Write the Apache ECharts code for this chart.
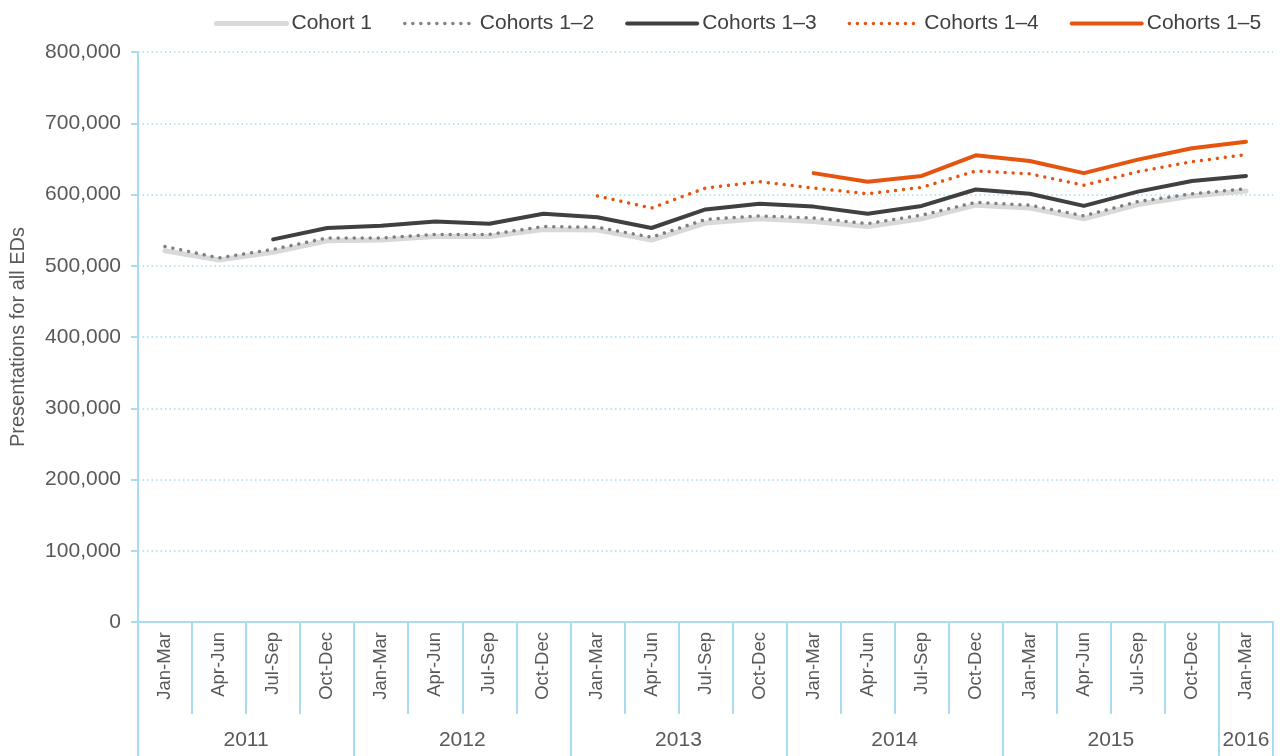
<!DOCTYPE html>
<html>
<head>
<meta charset="UTF-8">
<title>ED presentations by cohort</title>
<script src="https://cdn.jsdelivr.net/npm/echarts@6/dist/echarts.min.js"></script>
<style>
  html, body { margin: 0; padding: 0; background: #fff; }
  #main { width: 1284px; height: 756px; }
</style>
</head>
<body>
<div id="main"></div>
<script>
// quarters along the x axis, grouped by year below
var quarters = ['Jan-Mar', 'Apr-Jun', 'Jul-Sep', 'Oct-Dec',
                'Jan-Mar', 'Apr-Jun', 'Jul-Sep', 'Oct-Dec',
                'Jan-Mar', 'Apr-Jun', 'Jul-Sep', 'Oct-Dec',
                'Jan-Mar', 'Apr-Jun', 'Jul-Sep', 'Oct-Dec',
                'Jan-Mar', 'Apr-Jun', 'Jul-Sep', 'Oct-Dec',
                'Jan-Mar'];
var years = ['2011', '2012', '2013', '2014', '2015', '2016'];
var quartersPerYear = [4, 4, 4, 4, 4, 1];

// presentations
var cohort1 = [521000, 508000, 519000, 535000, 536000, 541000, 541000, 551000,
               550000, 536000, 560000, 566000, 562000, 555000, 566000, 585000,
               581000, 566000, 586000, 598000, 605000];
var cohorts12 = [527000, 511000, 523000, 539000, 539000, 544000, 544000, 555000,
                 554000, 540000, 565000, 570000, 567000, 559000, 571000, 589000,
                 585000, 570000, 590000, 601000, 608000];
var cohorts13 = [null, null, 537000, 553000, 556000, 562000, 559000, 573000,
                 568000, 553000, 579000, 587000, 583000, 573000, 584000, 607000,
                 601000, 584000, 604000, 619000, 626000];
var cohorts14 = [null, null, null, null, null, null, null, null,
                 598000, 581000, 609000, 618000, 609000, 601000, 610000, 633000,
                 629000, 613000, 632000, 646000, 656000];
var cohorts15 = [null, null, null, null, null, null, null, null,
                 null, null, null, null, 630000, 618000, 626000, 655000,
                 647000, 630000, 649000, 665000, 674000];

var yTicks = [0, 100000, 200000, 300000, 400000, 500000, 600000, 700000, 800000];

// year group boundaries and centres on a 0..21 scale
var yearEdges = [0], yearCentres = [];
quartersPerYear.forEach(function (n, i) {
    var start = yearEdges[yearEdges.length - 1];
    yearCentres.push(start + n / 2);
    yearEdges.push(start + n);
});

var blue = '#a9dcee';
var grey = '#595959';
var font = 'Liberation Sans, Arial, sans-serif';

var myChart = echarts.init(document.getElementById('main'));

function lineSeries(name, data, color, width, dotted, z) {
    return {
        name: name,
        type: 'line',
        data: data,
        symbol: 'none',
        connectNulls: false,
        z: z,
        lineStyle: {
            color: color,
            width: width,
            type: dotted ? [0.01, 8] : 'solid',
            cap: 'round',
            join: 'round'
        },
        itemStyle: { color: color }
    };
}

var option = {
    animation: false,
    textStyle: { fontFamily: font },
    legend: {
        top: 8,
        left: 209,
        itemWidth: 70,
        itemHeight: 12,
        itemGap: 31,
        itemStyle: { opacity: 0 },
        lineStyle: { width: 'inherit' },
        textStyle: { color: '#404040', fontSize: 21, fontFamily: font },
        data: ['Cohort 1', 'Cohorts 1–2', 'Cohorts 1–3', 'Cohorts 1–4', 'Cohorts 1–5']
    },
    grid: { left: 138, right: 11, top: 52, bottom: 134 },
    xAxis: [
        {
            type: 'category',
            data: quarters,
            boundaryGap: true,
            axisLine: { lineStyle: { color: blue, width: 2 } },
            axisTick: { show: true, interval: 0, length: 92, lineStyle: { color: blue, width: 2 } },
            axisLabel: { interval: 0, rotate: 90, margin: 10, fontSize: 18.5, color: grey, fontFamily: font },
            splitLine: { show: false }
        },
        {
            type: 'value',
            min: 0,
            max: quarters.length,
            position: 'bottom',
            axisLine: { show: false },
            splitLine: { show: false },
            axisTick: { show: true, customValues: yearEdges, length: 134, lineStyle: { color: blue, width: 2 } },
            axisLabel: {
                customValues: yearCentres,
                margin: 108,
                fontSize: 21,
                color: grey,
                fontFamily: font,
                formatter: function (v) {
                    var i = yearCentres.indexOf(v);
                    return i >= 0 ? years[i] : '';
                }
            }
        }
    ],
    yAxis: {
        type: 'value',
        min: 0,
        max: 800000,
        interval: 100000,
        name: 'Presentations for all EDs',
        nameLocation: 'middle',
        nameGap: 110,
        nameTextStyle: { color: grey, fontSize: 20, fontFamily: font },
        axisLine: { show: true, lineStyle: { color: blue, width: 2 } },
        axisTick: { show: true, length: 7, lineStyle: { color: blue, width: 2 } },
        axisLabel: {
            margin: 17,
            fontSize: 21,
            color: grey,
            fontFamily: font,
            customValues: yTicks,
            formatter: function (v) { return v.toLocaleString('en-US'); }
        },
        splitLine: { show: true, lineStyle: { color: blue, width: 1.5, type: [1.5, 3] } }
    },
    series: [
        lineSeries('Cohort 1', cohort1, '#d9d9d9', 5, false, 2),
        lineSeries('Cohorts 1–2', cohorts12, '#7f7f7f', 3.5, true, 3),
        lineSeries('Cohorts 1–3', cohorts13, '#404040', 4, false, 4),
        lineSeries('Cohorts 1–4', cohorts14, '#e6550f', 3.5, true, 5),
        lineSeries('Cohorts 1–5', cohorts15, '#e6550f', 4, false, 6)
    ]
};

myChart.setOption(option, true);
</script>
</body>
</html>
